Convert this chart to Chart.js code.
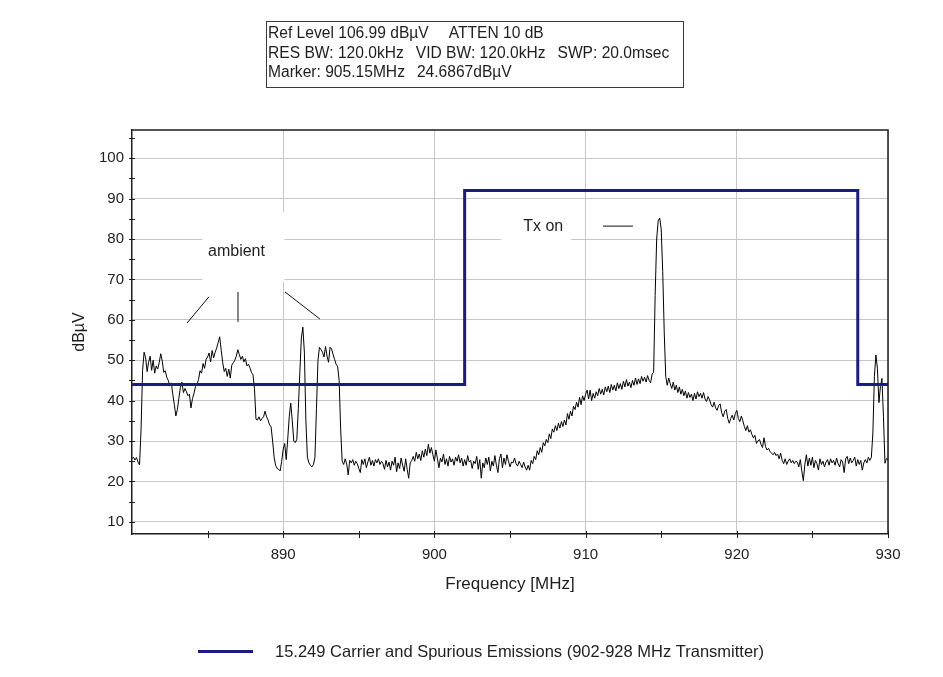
<!DOCTYPE html>
<html>
<head>
<meta charset="utf-8">
<title>15.249 Carrier and Spurious Emissions</title>
<script src="https://cdn.jsdelivr.net/npm/chart.js@4.4.1/dist/chart.umd.min.js"></script>
<style>
  html, body { margin: 0; padding: 0; background: #ffffff; }
  #wrap { position: relative; width: 943px; height: 677px; }
</style>
</head>
<body>
<div id="wrap"><canvas id="spectrum" width="943" height="677"></canvas></div>
<script>
// Sweep definition (MHz)
const sweepStart = 880.0;
const sweepStep = 0.1;

// Measured level per sweep point, dBµV (880.0 … 930.0 MHz, 10 points per row = 1 MHz)
const sweepLevels = [
  25.6, 26.0, 25.3, 25.9, 24.8, 24.1, 33.0, 47.5, 52.0, 50.6,
  47.2, 49.5, 51.0, 47.5, 50.0, 46.8, 48.6, 47.8, 49.4, 51.6,
  49.8, 47.0, 47.4, 45.8, 45.0, 43.6, 44.4, 41.5, 39.0, 36.2,
  37.8, 40.6, 43.2, 44.6, 42.0, 43.0, 42.2, 41.2, 41.6, 38.2,
  40.5, 41.8, 43.5, 44.0, 45.2, 47.4, 46.8, 49.2, 48.0, 50.2,
  50.8, 51.8, 49.6, 52.4, 50.6, 52.0, 53.0, 54.4, 55.8, 52.5,
  49.4, 47.2, 48.0, 46.0, 47.8, 45.6, 48.8, 49.4, 50.0, 51.0,
  52.6, 51.4, 50.2, 51.0, 49.6, 50.4, 48.6, 49.0, 48.2, 47.0,
  46.4, 43.0, 35.4, 35.2, 36.0, 35.0, 35.6, 36.0, 37.4, 36.0,
  35.2, 34.0, 33.5, 30.0, 26.0, 24.0, 23.2, 23.0, 22.6, 25.0,
  28.0, 29.4, 25.4, 30.5, 36.0, 39.4, 35.0, 30.0, 29.6, 30.4,
  38.0, 47.0, 55.5, 58.2, 52.0, 35.0, 26.0, 24.6, 24.0, 23.6,
  24.2, 26.0, 38.0, 50.0, 53.2, 52.6, 52.0, 50.8, 53.4, 51.0,
  49.5, 53.2, 52.8, 51.4, 50.2, 49.0, 48.4, 45.0, 33.0, 25.0,
  24.2, 25.6, 24.3, 21.6, 25.2, 24.6, 25.4, 24.0, 25.0, 24.4,
  23.2, 22.2, 25.4, 24.2, 25.6, 23.4, 24.8, 26.0, 24.0, 25.2,
  23.8, 25.4, 24.6, 25.6, 24.2, 25.0, 24.4, 23.0, 25.2, 23.6,
  24.8, 22.8, 25.0, 24.0, 26.0, 22.4, 24.6, 23.2, 25.8, 24.0,
  22.5, 25.6, 23.0, 20.8, 24.6, 25.2, 26.2, 25.0, 27.2, 25.6,
  26.8, 25.2, 27.6, 26.0, 28.0, 26.4, 29.2, 27.0, 28.4, 26.6,
  25.0, 27.8, 25.6, 23.4, 25.8, 24.8, 26.8, 24.2, 25.6, 23.8,
  26.2, 24.8, 25.6, 24.0, 26.0, 25.0, 26.6, 24.6, 25.8, 23.8,
  25.4, 24.0, 26.4, 24.8, 25.2, 23.2, 25.0, 24.4, 26.2, 23.0,
  25.4, 20.8, 24.6, 23.4, 25.8, 24.2, 26.0, 22.6, 25.0, 23.8,
  26.4, 24.0, 22.2, 25.6, 26.8, 23.4, 25.8, 24.2, 26.6, 25.0,
  23.6, 24.8, 24.6, 25.8, 24.4, 23.8, 25.0, 24.2, 23.4, 24.8,
  23.6, 22.8, 24.0, 22.8, 25.2, 24.4, 26.2, 25.4, 27.6, 26.6,
  28.4, 27.2, 29.6, 28.8, 30.4, 29.6, 31.8, 30.6, 33.0, 32.2,
  33.8, 32.6, 34.4, 33.2, 34.8, 33.6, 35.2, 34.0, 36.8, 35.4,
  37.4, 36.2, 38.6, 37.8, 39.6, 38.4, 40.8, 39.0, 41.2, 40.0,
  41.6, 42.6, 40.4, 42.6, 40.0, 41.8, 40.6, 42.2, 41.2, 43.0,
  41.6, 42.8, 41.4, 43.4, 42.2, 43.6, 42.0, 44.0, 42.6, 43.8,
  42.4, 44.4, 43.0, 44.2, 42.8, 44.8, 43.4, 45.2, 43.6, 44.6,
  43.2, 45.0, 43.8, 45.6, 44.0, 45.4, 44.2, 46.0, 44.8, 45.8,
  44.6, 46.2, 45.0, 44.4, 46.6, 47.0, 66.0, 80.0, 84.5, 85.2,
  82.5, 72.0, 57.0, 46.0, 43.8, 45.6, 44.2, 43.0, 44.6, 42.6,
  43.8, 42.0, 43.4, 41.6, 42.8, 41.2, 42.4, 40.6, 42.0, 40.8,
  41.6, 40.0, 41.8, 40.4, 42.2, 41.0, 41.8, 40.6, 42.0, 40.4,
  39.8, 41.0, 40.2, 39.0, 38.4, 39.6, 38.2, 37.6, 38.8, 39.2,
  37.0, 36.0, 37.4, 37.8, 35.6, 34.4, 35.6, 36.4, 35.2, 36.8,
  37.6, 35.6, 34.8, 36.2, 35.0, 33.6, 32.6, 33.8, 32.2, 32.8,
  31.6, 30.8, 31.4, 29.4, 30.0, 30.4, 29.2, 28.4, 30.8, 28.6,
  27.8, 28.2, 27.4, 27.0, 26.6, 27.2, 26.4, 26.8, 25.6, 27.0,
  25.2, 24.4, 25.6, 24.2, 25.0, 25.6, 24.6, 25.2, 24.4, 25.0,
  24.8, 23.6, 25.4, 22.6, 20.2, 24.2, 26.6, 23.8, 25.8, 24.0,
  26.0, 23.4, 25.2, 24.4, 22.8, 25.6, 24.2, 25.0, 23.6, 24.8,
  25.4, 24.0, 25.6, 24.6, 25.2, 24.0, 25.8, 24.4, 23.6, 25.4,
  24.8, 22.2, 25.6, 26.2, 24.4, 25.8, 24.6, 25.2, 26.0, 23.8,
  25.4, 24.2, 25.2, 22.8, 24.6, 25.4, 24.6, 26.0, 25.2, 26.0,
  32.0, 46.0, 51.3, 48.0, 39.5, 43.5, 45.5, 36.0, 24.5, 25.7,
  25.4
];

// FCC 15.249 limit line (MHz / dBµV)
const limitFreq  = [880, 902, 902, 928, 928, 930];
const limitLevel = [44,  44,  92,  92,  44,  44];

// Axis ranges and ticks
const freqMin = 880, freqMax = 930;
const levelMin = 6.99, levelMax = 106.99;
const xTickValues  = [890, 900, 910, 920, 930];
const xMinorValues = [885, 890, 895, 900, 905, 910, 915, 920, 925, 930];
const yTickValues  = [10, 20, 30, 40, 50, 60, 70, 80, 90, 100];
const yMinorValues = [10, 15, 20, 25, 30, 35, 40, 45, 50, 55, 60, 65, 70, 75, 80, 85, 90, 95, 100, 105];

// Analyzer settings header, one array per line
const headerLine1 = ['Ref Level 106.99 dBµV', 'ATTEN 10 dB'];
const headerLine2 = ['RES BW: 120.0kHz', 'VID BW: 120.0kHz', 'SWP: 20.0msec'];
const headerLine3 = ['Marker: 905.15MHz', '24.6867dBµV'];
const legendLabel = '15.249 Carrier and Spurious Emissions (902-928 MHz Transmitter)';

// Text notes placed in data units (MHz, dBµV)
const ambientNote = { text: 'ambient', x: 886.91, y: 76.8 };
const ambientLeaders = [
  [883.64, 59.2, 885.09, 65.7],
  [887.01, 66.9, 887.01, 59.5],
  [890.12, 66.9, 892.43, 60.2]
];
const txNote = { text: 'Tx on', x: 907.2, y: 83.2 };
const txLeader = [911.15, 83.2, 913.13, 83.2];

const FONT = "'Liberation Sans', Arial, Helvetica, sans-serif";
const NAVY = '#1b1b86';
const INK = '#1e1e1e';
const GRID = '#c6c6c6';

const tracePoints = sweepLevels.map((v, i) => ({ x: +(sweepStart + i * sweepStep).toFixed(1), y: v }));
const limitPoints = limitFreq.map((f, i) => ({ x: f, y: limitLevel[i] }));

// draws one header line, segments separated by a fixed gap
function drawHeaderLine(ctx, parts, x, y, gap) {
  parts.forEach(t => {
    ctx.fillText(t, x, y);
    x += ctx.measureText(t).width + gap;
  });
}

const overlay = {
  id: 'overlay',
  beforeDatasetsDraw(chart) {
    const ctx = chart.ctx;
    const xs = chart.scales.x, ys = chart.scales.y;
    ctx.save();
    // white backing behind the notes
    const ax = xs.getPixelForValue(ambientNote.x), ay = ys.getPixelForValue(ambientNote.y);
    ctx.fillStyle = '#ffffff';
    ctx.fillRect(ax - 34, ay - 40, 82, 70);
    const tx = xs.getPixelForValue(txNote.x), ty = ys.getPixelForValue(txNote.y);
    ctx.fillRect(tx - 42, ty - 18, 70, 38);

    ctx.font = '16px ' + FONT;
    ctx.fillStyle = INK;
    ctx.textAlign = 'center';
    ctx.textBaseline = 'middle';
    ctx.fillText(ambientNote.text, ax, ay);
    ctx.fillText(txNote.text, tx, ty);

    ctx.strokeStyle = '#111';
    ctx.lineWidth = 1;
    ambientLeaders.concat([txLeader]).forEach(l => {
      ctx.beginPath();
      ctx.moveTo(xs.getPixelForValue(l[0]), ys.getPixelForValue(l[1]));
      ctx.lineTo(xs.getPixelForValue(l[2]), ys.getPixelForValue(l[3]));
      ctx.stroke();
    });
    ctx.restore();
  },
  afterDraw(chart) {
    const ctx = chart.ctx;
    const a = chart.chartArea;
    const xs = chart.scales.x, ys = chart.scales.y;
    ctx.save();
    // frame on the top and right of the plot
    ctx.strokeStyle = INK;
    ctx.lineWidth = 1.5;
    ctx.beginPath();
    ctx.moveTo(a.left, a.top);
    ctx.lineTo(a.right, a.top);
    ctx.lineTo(a.right, a.bottom);
    ctx.stroke();

    // tick marks crossing the axes
    ctx.lineWidth = 1;
    ctx.beginPath();
    yMinorValues.forEach(v => {
      const y = Math.round(ys.getPixelForValue(v)) + 0.5;
      ctx.moveTo(a.left - 3, y); ctx.lineTo(a.left + 3, y);
    });
    xMinorValues.forEach(v => {
      const x = Math.round(xs.getPixelForValue(v)) + 0.5;
      ctx.moveTo(x, a.bottom - 3); ctx.lineTo(x, a.bottom + 4);
    });
    ctx.stroke();

    // analyzer settings box
    ctx.strokeStyle = '#3a3a3a';
    ctx.lineWidth = 1;
    ctx.strokeRect(266.5, 21.5, 417, 66);
    ctx.font = '15.6px ' + FONT;
    ctx.fillStyle = INK;
    ctx.textAlign = 'left';
    ctx.textBaseline = 'middle';
    drawHeaderLine(ctx, headerLine1, 268, 34, 20);
    drawHeaderLine(ctx, headerLine2, 268, 53.5, 12);
    drawHeaderLine(ctx, headerLine3, 268, 73, 12);

    // legend for the limit line
    ctx.strokeStyle = NAVY;
    ctx.lineWidth = 3;
    ctx.beginPath();
    ctx.moveTo(198, 651.5); ctx.lineTo(253, 651.5);
    ctx.stroke();
    ctx.font = '16.5px ' + FONT;
    ctx.fillStyle = INK;
    ctx.fillText(legendLabel, 275, 652);
    ctx.restore();
  }
};

new Chart(document.getElementById('spectrum'), {
  type: 'line',
  data: {
    datasets: [
      { label: 'Trace', data: tracePoints, borderColor: '#000000', borderWidth: 1,
        pointRadius: 0, tension: 0, fill: false, order: 1 },
      { label: legendLabel, data: limitPoints, borderColor: NAVY, borderWidth: 3,
        pointRadius: 0, tension: 0, fill: false, order: 0 }
    ]
  },
  options: {
    responsive: false,
    animation: false,
    devicePixelRatio: 1,
    layout: { padding: { left: 0, right: 55, top: 130, bottom: 0 } },
    plugins: { legend: { display: false }, tooltip: { enabled: false } },
    scales: {
      x: {
        type: 'linear', min: freqMin, max: freqMax,
        afterBuildTicks: s => { s.ticks = xTickValues.map(v => ({ value: v })); },
        afterFit: s => { s.height = 143; },
        grid: { color: GRID, lineWidth: 1, drawTicks: false },
        border: { display: true, color: INK, width: 1.5 },
        ticks: { padding: 12, color: INK, font: { family: FONT, size: 15 }, maxRotation: 0, autoSkip: false },
        title: { display: true, text: 'Frequency [MHz]', color: INK,
                 font: { family: FONT, size: 17 }, padding: { top: 0, bottom: 82 } }
      },
      y: {
        type: 'linear', min: levelMin, max: levelMax,
        afterBuildTicks: s => { s.ticks = yTickValues.map(v => ({ value: v })); },
        afterFit: s => { s.width = 132; },
        grid: { color: GRID, lineWidth: 1, drawTicks: false },
        border: { display: true, color: INK, width: 1.5 },
        ticks: { padding: 8, color: INK, font: { family: FONT, size: 15 }, autoSkip: false },
        title: { display: true, text: 'dBµV', color: INK,
                 font: { family: FONT, size: 16 }, padding: { top: 70, bottom: 0 } }
      }
    }
  },
  plugins: [overlay]
});
</script>
</body>
</html>
